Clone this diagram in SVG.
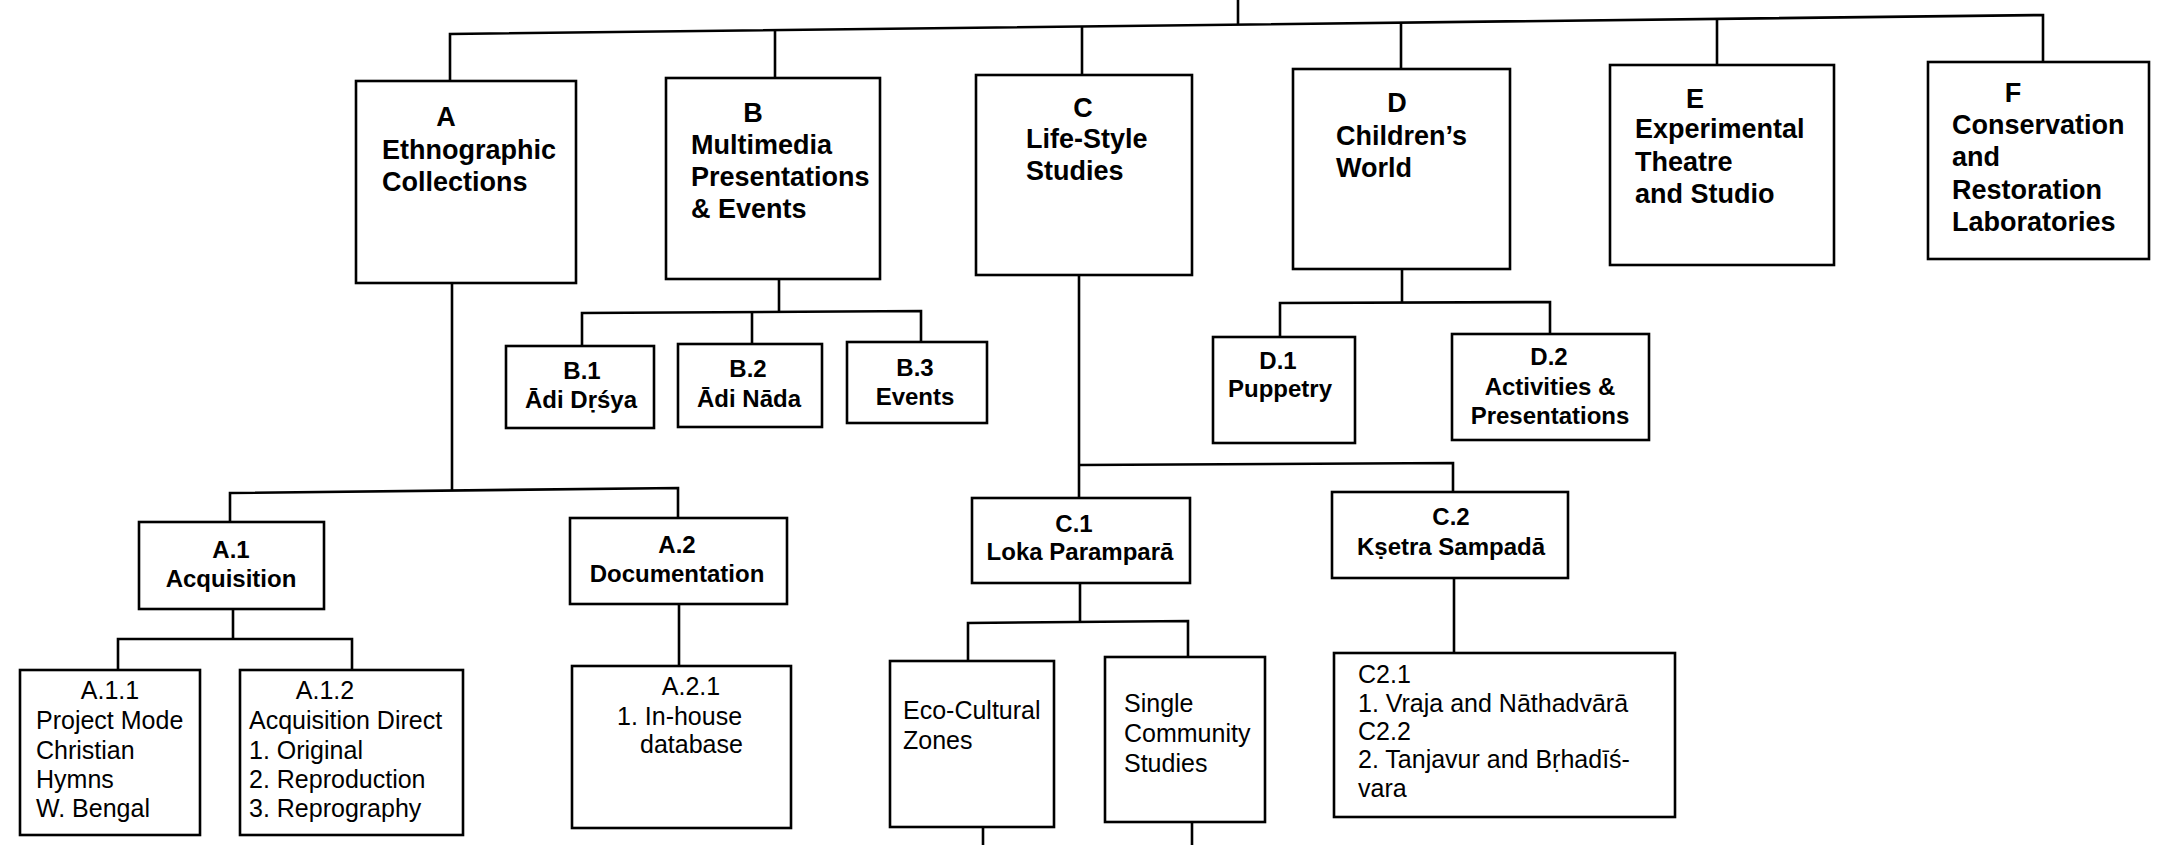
<svg xmlns="http://www.w3.org/2000/svg" width="2162" height="845" viewBox="0 0 2162 845">
<style>
.bx{fill:#fff;stroke:#000;stroke-width:2.6}
.ln{fill:none;stroke:#000;stroke-width:2.6}
.t1{font-family:"Liberation Sans",Arial,sans-serif;font-weight:bold;font-size:27px;fill:#000}
.t2{font-family:"Liberation Sans",Arial,sans-serif;font-weight:bold;font-size:24px;fill:#000}
.t3{font-family:"Liberation Sans",Arial,sans-serif;font-size:25px;fill:#000}
.m{text-anchor:middle}
</style>
<rect width="2162" height="845" fill="#fff"/>
<g id="connectors">
<path class="ln" d="M1238 0 V25"/>
<path class="ln" d="M450 81 V34 L2043 15 V62"/>
<path class="ln" d="M775 30 V78"/>
<path class="ln" d="M1082 26.5 V75"/>
<path class="ln" d="M1401 22.7 V69"/>
<path class="ln" d="M1717 19 V65"/>
<path class="ln" d="M452 283 V491"/>
<path class="ln" d="M230 522 V493 L678 488 V518"/>
<path class="ln" d="M779 279 V313"/>
<path class="ln" d="M582 346 V313 L921 311 V342"/>
<path class="ln" d="M752 312 V344"/>
<path class="ln" d="M1079 275 V498"/>
<path class="ln" d="M1079 465 L1453 463 V492"/>
<path class="ln" d="M1402 269 V303"/>
<path class="ln" d="M1280 337 V303 L1550 302 V334"/>
<path class="ln" d="M233 609 V639"/>
<path class="ln" d="M118 670 V639 H352 V670"/>
<path class="ln" d="M679 604 V666"/>
<path class="ln" d="M1080 583 V623"/>
<path class="ln" d="M968 661 V623 L1188 621 V657"/>
<path class="ln" d="M1454 578 V653"/>
<path class="ln" d="M983 827 V845"/>
<path class="ln" d="M1192 822 V845"/>
</g>
<g id="A">
<rect class="bx" x="356" y="81" width="220" height="202"/>
<text class="t1 m" x="446" y="126">A</text>
<text class="t1" x="382" y="159">Ethnographic</text>
<text class="t1" x="382" y="191">Collections</text>
</g>
<g id="B">
<rect class="bx" x="666" y="78" width="214" height="201"/>
<text class="t1 m" x="753" y="122">B</text>
<text class="t1" x="691" y="154">Multimedia</text>
<text class="t1" x="691" y="186">Presentations</text>
<text class="t1" x="691" y="218">&amp; Events</text>
</g>
<g id="C">
<rect class="bx" x="976" y="75" width="216" height="200"/>
<text class="t1 m" x="1083" y="117">C</text>
<text class="t1" x="1026" y="148">Life-Style</text>
<text class="t1" x="1026" y="180">Studies</text>
</g>
<g id="D">
<rect class="bx" x="1293" y="69" width="217" height="200"/>
<text class="t1 m" x="1397" y="112">D</text>
<text class="t1" x="1336" y="145">Children’s</text>
<text class="t1" x="1336" y="177">World</text>
</g>
<g id="E">
<rect class="bx" x="1610" y="65" width="224" height="200"/>
<text class="t1 m" x="1695" y="108">E</text>
<text class="t1" x="1635" y="138">Experimental</text>
<text class="t1" x="1635" y="171">Theatre</text>
<text class="t1" x="1635" y="203">and Studio</text>
</g>
<g id="F">
<rect class="bx" x="1928" y="62" width="221" height="197"/>
<text class="t1 m" x="2013" y="102">F</text>
<text class="t1" x="1952" y="134">Conservation</text>
<text class="t1" x="1952" y="166">and</text>
<text class="t1" x="1952" y="199">Restoration</text>
<text class="t1" x="1952" y="231">Laboratories</text>
</g>
<g id="A1">
<rect class="bx" x="139" y="522" width="185" height="87"/>
<text class="t2 m" x="231" y="558">A.1</text>
<text class="t2 m" x="231" y="587">Acquisition</text>
</g>
<g id="A2">
<rect class="bx" x="570" y="518" width="217" height="86"/>
<text class="t2 m" x="677" y="553">A.2</text>
<text class="t2 m" x="677" y="582">Documentation</text>
</g>
<g id="B1">
<rect class="bx" x="506" y="346" width="148" height="82"/>
<text class="t2 m" x="582" y="379">B.1</text>
<text class="t2 m" x="581" y="408">Ādi Dṛśya</text>
</g>
<g id="B2">
<rect class="bx" x="678" y="344" width="144" height="83"/>
<text class="t2 m" x="748" y="377">B.2</text>
<text class="t2 m" x="749" y="407">Ādi Nāda</text>
</g>
<g id="B3">
<rect class="bx" x="847" y="342" width="140" height="81"/>
<text class="t2 m" x="915" y="376">B.3</text>
<text class="t2 m" x="915" y="405">Events</text>
</g>
<g id="C1">
<rect class="bx" x="972" y="498" width="218" height="85"/>
<text class="t2 m" x="1074" y="532">C.1</text>
<text class="t2 m" x="1080" y="560">Loka Paramparā</text>
</g>
<g id="C2">
<rect class="bx" x="1332" y="492" width="236" height="86"/>
<text class="t2 m" x="1451" y="525">C.2</text>
<text class="t2 m" x="1451" y="555">Kṣetra Sampadā</text>
</g>
<g id="D1">
<rect class="bx" x="1213" y="337" width="142" height="106"/>
<text class="t2 m" x="1278" y="369">D.1</text>
<text class="t2 m" x="1280" y="397">Puppetry</text>
</g>
<g id="D2">
<rect class="bx" x="1452" y="334" width="197" height="106"/>
<text class="t2 m" x="1549" y="365">D.2</text>
<text class="t2 m" x="1550" y="395">Activities &amp;</text>
<text class="t2 m" x="1550" y="424">Presentations</text>
</g>
<g id="A11">
<rect class="bx" x="20" y="670" width="180" height="165"/>
<text class="t3 m" x="110" y="699">A.1.1</text>
<text class="t3" x="36" y="729">Project Mode</text>
<text class="t3" x="36" y="759">Christian</text>
<text class="t3" x="36" y="788">Hymns</text>
<text class="t3" x="36" y="817">W. Bengal</text>
</g>
<g id="A12">
<rect class="bx" x="240" y="670" width="223" height="165"/>
<text class="t3 m" x="325" y="699">A.1.2</text>
<text class="t3" x="249" y="729">Acquisition Direct</text>
<text class="t3" x="249" y="759">1. Original</text>
<text class="t3" x="249" y="788">2. Reproduction</text>
<text class="t3" x="249" y="817">3. Reprography</text>
</g>
<g id="A21">
<rect class="bx" x="572" y="666" width="219" height="162"/>
<text class="t3 m" x="691" y="695">A.2.1</text>
<text class="t3" x="617" y="725">1. In-house</text>
<text class="t3" x="640" y="753">database</text>
</g>
<g id="EcoCultural">
<rect class="bx" x="890" y="661" width="164" height="166"/>
<text class="t3" x="903" y="719">Eco-Cultural</text>
<text class="t3" x="903" y="749">Zones</text>
</g>
<g id="SingleCommunity">
<rect class="bx" x="1105" y="657" width="160" height="165"/>
<text class="t3" x="1124" y="712">Single</text>
<text class="t3" x="1124" y="742">Community</text>
<text class="t3" x="1124" y="772">Studies</text>
</g>
<g id="C2x">
<rect class="bx" x="1334" y="653" width="341" height="164"/>
<text class="t3" x="1358" y="683">C2.1</text>
<text class="t3" x="1358" y="712">1. Vraja and Nāthadvārā</text>
<text class="t3" x="1358" y="740">C2.2</text>
<text class="t3" x="1358" y="768">2. Tanjavur and Bṛhadīś-</text>
<text class="t3" x="1358" y="797">vara</text>
</g>
</svg>
